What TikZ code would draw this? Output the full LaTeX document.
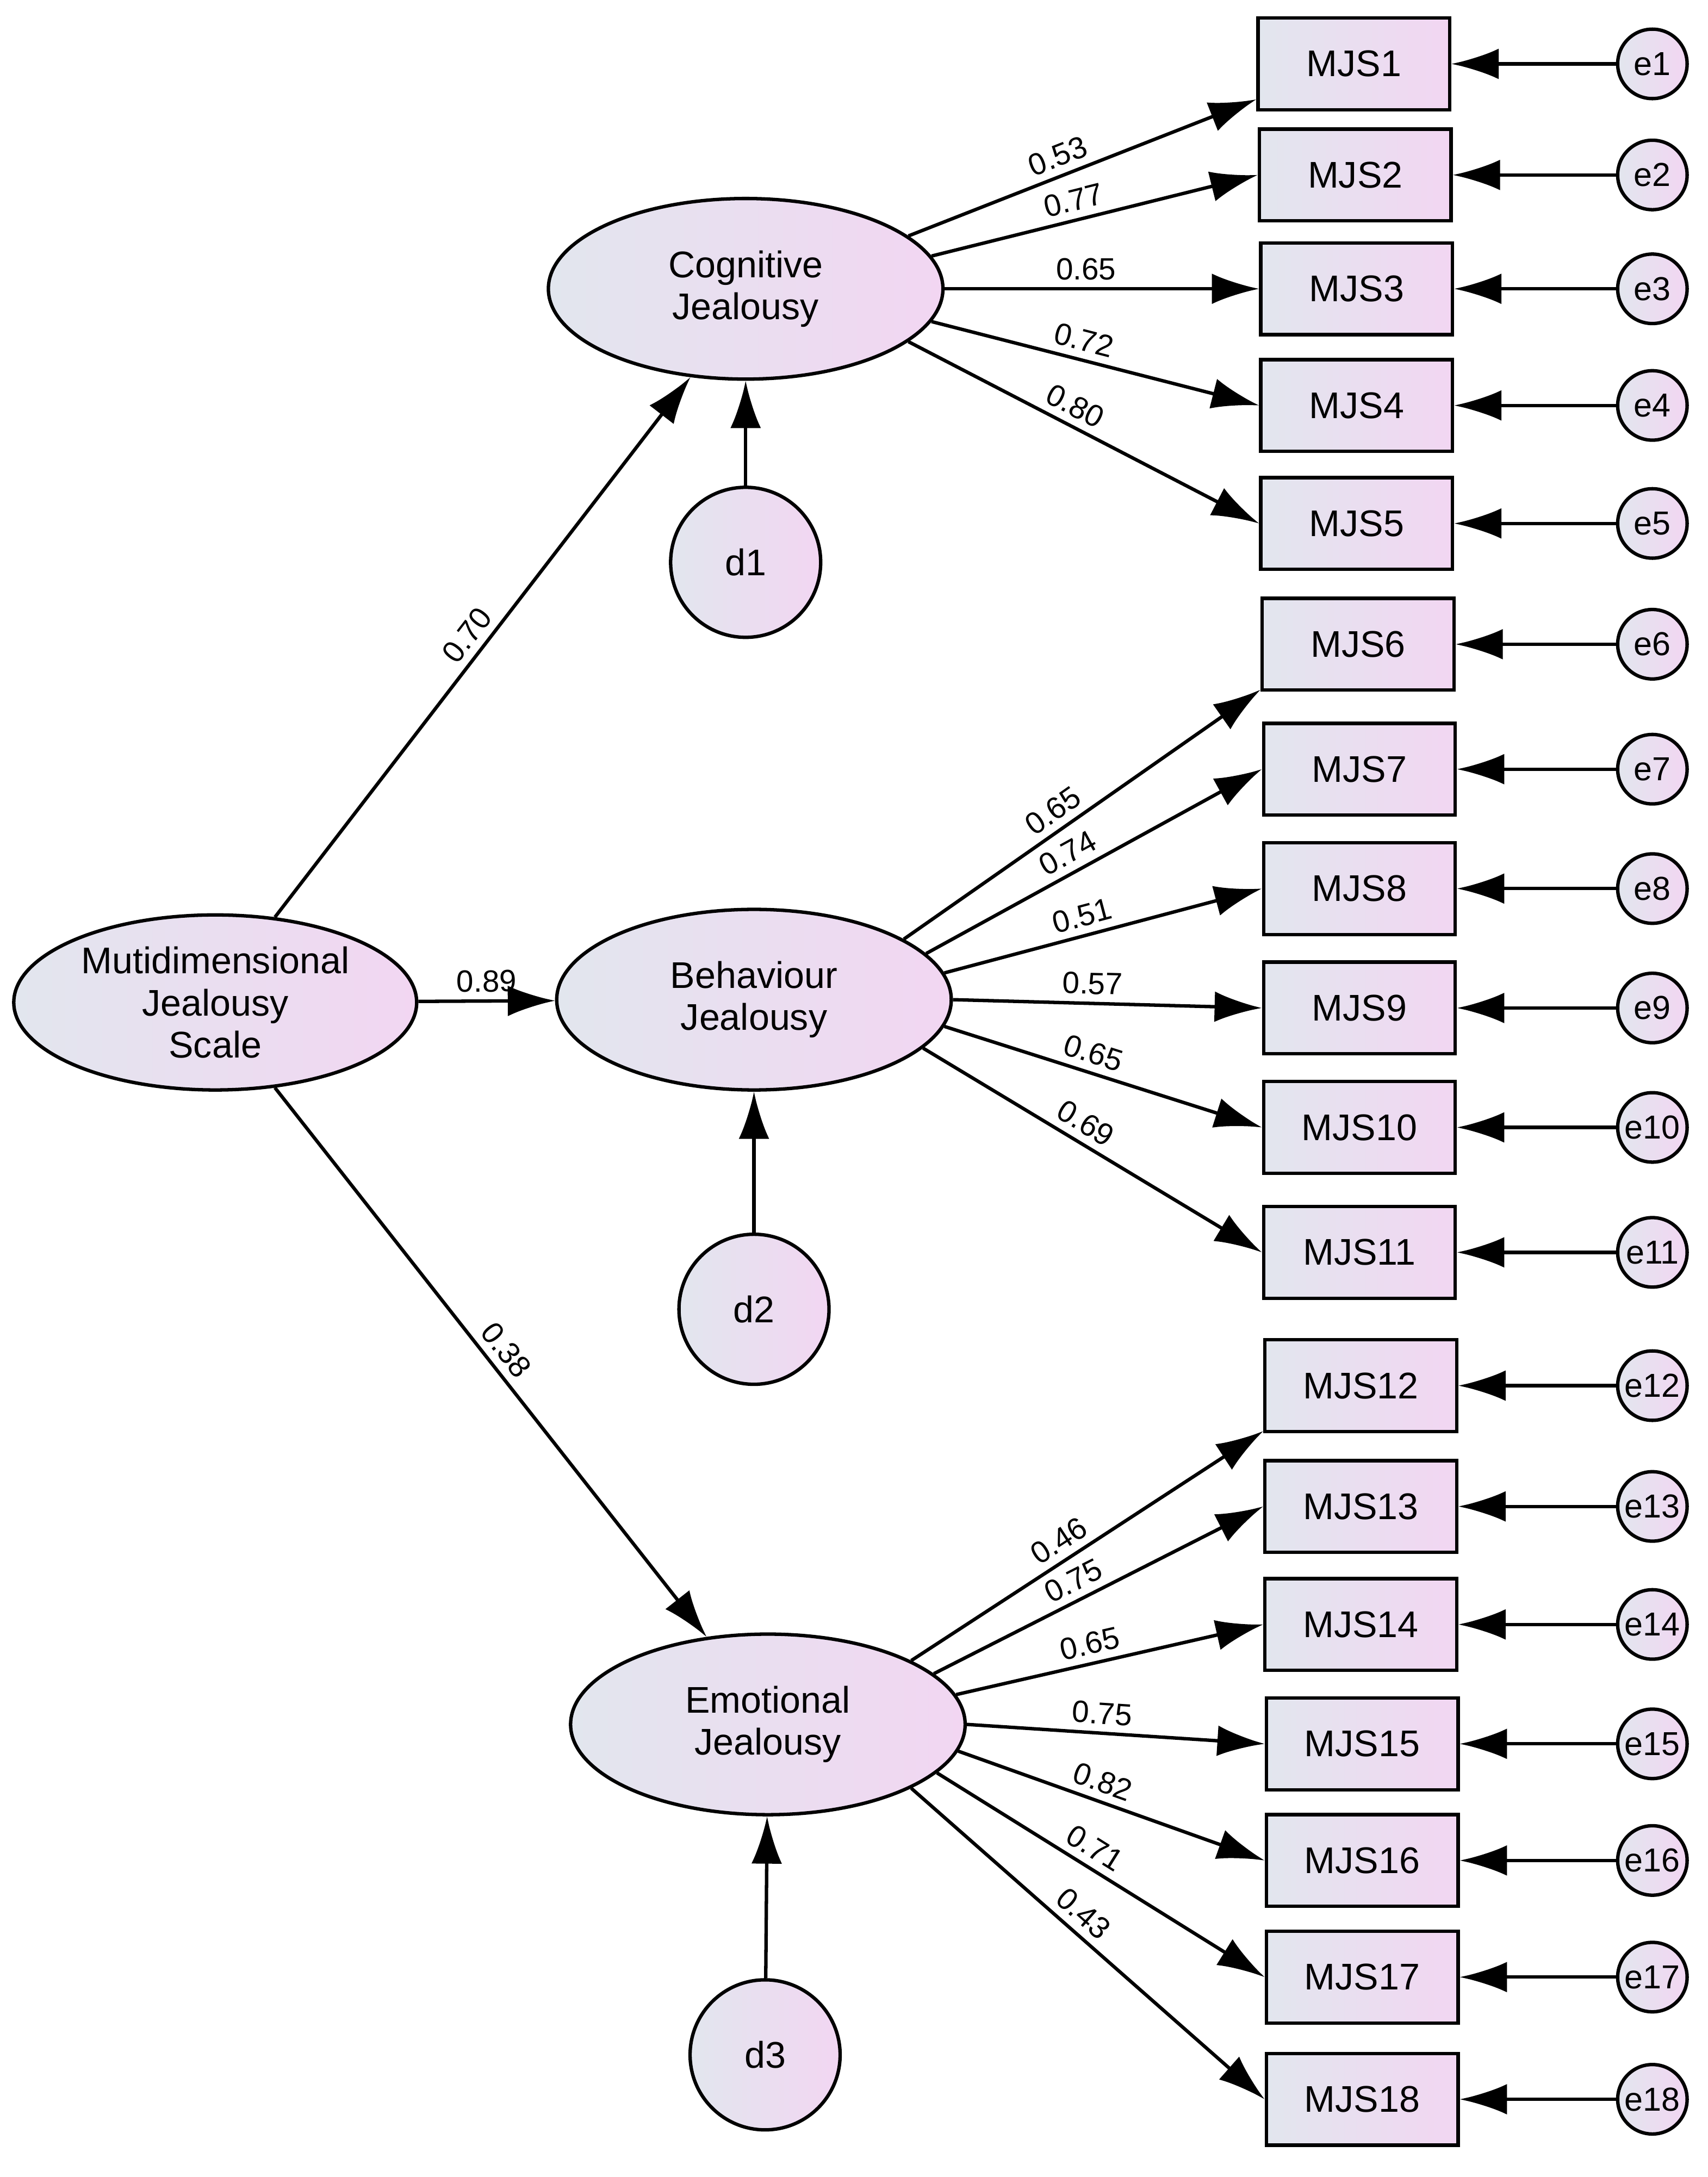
\documentclass[tikz,border=0pt]{standalone}
\usepackage{fontspec}
\setmainfont{Liberation Sans}
\usetikzlibrary{arrows.meta,shapes.geometric}
\definecolor{gl}{HTML}{E2E6EE}
\definecolor{gr}{HTML}{F2D6F2}
\begin{document}
\begin{tikzpicture}[x=0.01cm,y=-0.01cm,
  every node/.style={font=\fontsize{7.6}{8.6}\selectfont},
  grad/.style={draw=black,line width=0.7pt,left color=gl,right color=gr},
  lat/.style={grad,ellipse,minimum width=2.84cm,minimum height=1.3cm,align=center,inner sep=0pt},
  ind/.style={grad,rectangle,minimum width=1.38cm,minimum height=0.66cm,inner sep=0pt},
  err/.style={grad,circle,minimum size=0.5cm,inner sep=0pt,font=\fontsize{6.8}{7}\selectfont},
  dis/.style={grad,circle,minimum size=1.08cm,inner sep=0pt},
  arr/.style={-{Latex[length=0.34cm,width=0.22cm]},line width=0.7pt},
  lab/.style={sloped,above,inner sep=1.5pt,font=\fontsize{6.3}{6.5}\selectfont}]
\useasboundingbox (0,0) rectangle (1230,1568);
\node[lat,minimum width=2.9cm,minimum height=1.26cm] (M) at (155,722) {Mutidimensional\\Jealousy\\Scale};
\node[lat] (C) at (537,208) {Cognitive\\Jealousy};
\node[lat] (B) at (543,720) {Behaviour\\Jealousy};
\node[lat] (E) at (553,1242) {Emotional\\Jealousy};
\node[dis] (d1) at (537,405) {d1};
\node[dis] (d2) at (543,943) {d2};
\node[dis] (d3) at (551,1480) {d3};
\draw[arr] (d1) -- (C);
\draw[arr] (d2) -- (B);
\draw[arr] (d3) -- (E);
\draw[arr] (M.55) -- node[lab,pos=0.5]{0.70} (C.238);
\draw[arr] (M) -- node[lab,pos=0.5]{0.89} (B);
\draw[arr] (M.-55) -- node[lab,pos=0.5]{0.38} (E.125);
\foreach \i/\y/\x/\f/\a/\v/\t in {1/46/975/C/18/0.53/200,2/126/976/C/10/0.77/west,3/208/977/C/0/0.65/west,4/292/977/C/-10/0.72/west,5/377/977/C/-18/0.80/west,
  6/464/978/B/22/0.65/205,7/554/979/B/15/0.74/west,8/640/979/B/8/0.51/west,9/726/979/B/0/0.57/west,10/812/979/B/-8/0.65/west,11/902/979/B/-16/0.69/west,
  12/998/980/E/24/0.46/205,13/1085/980/E/17/0.75/west,14/1170/980/E/9/0.65/west,15/1256/981/E/0/0.75/west,16/1340/981/E/-8/0.82/west,17/1424/981/E/-16/0.71/west,18/1512/981/E/-24/0.43/west}{
  \node[ind] (m\i) at (\x,\y) {MJS\i};
  \node[err] (e\i) at (1190,\y) {e\i};
  \draw[arr] (e\i) -- (m\i);
  \draw[arr] (\f.\a) -- node[lab,pos=0.45]{\v} (m\i.\t);
}
\end{tikzpicture}
\end{document}
